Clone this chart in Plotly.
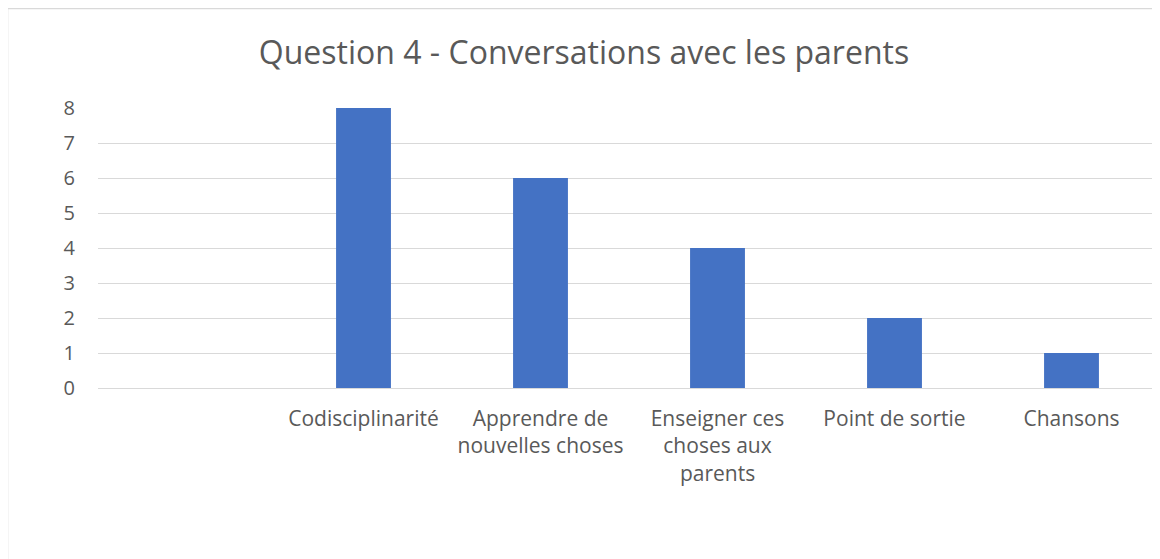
import plotly.graph_objects as go

# first category is left blank in the original sheet
categories = [
    " ",
    "Codisciplinarité",
    "Apprendre de<br>nouvelles choses",
    "Enseigner ces<br>choses aux<br>parents",
    "Point de sortie",
    "Chansons",
]
counts = [None, 8, 6, 4, 2, 1]
y_ticks = [0, 1, 2, 3, 4, 5, 6, 7, 8]

text_color = "#595959"
grid_color = "#D9D9D9"

fig = go.Figure(
    go.Bar(
        x=categories,
        y=counts,
        width=0.31,
        marker=dict(color="#4472C4", line=dict(width=0)),
    )
)

# the html page adds an 8px body margin, so the figure is offset by 8px
fig.update_layout(
    width=1152,
    height=551,
    margin=dict(l=90, r=0, t=100, b=171),
    paper_bgcolor="white",
    plot_bgcolor="white",
    font=dict(family="Open Sans, sans-serif", size=21, color=text_color),
    title=dict(
        text="Question 4 - Conversations avec les parents",
        x=0.5,
        xanchor="center",
        y=0.918,
        yanchor="middle",
        font=dict(size=32, color=text_color),
    ),
    showlegend=False,
)

fig.update_xaxes(
    type="category",
    range=[-0.5, 5.5],
    showgrid=False,
    showline=False,
    zeroline=False,
    ticks="",
    tickangle=0,
    ticklabelstandoff=16,
)
fig.update_yaxes(
    range=[0, 8],
    tickvals=y_ticks,
    tickfont=dict(size=20),
    showgrid=True,
    gridcolor=grid_color,
    gridwidth=1,
    zeroline=True,
    zerolinecolor=grid_color,
    zerolinewidth=1,
    showline=False,
    ticks="",
    ticklabelstandoff=22,
)

# outer chart border (cut off on the right and bottom in the reference)
fig.add_shape(
    type="rect",
    xref="paper",
    yref="paper",
    x0=-0.0852,
    x1=1.2,
    y0=-1.5,
    y1=1.3554,
    line=dict(color=grid_color, width=1.5),
    fillcolor="rgba(0,0,0,0)",
    layer="below",
)

fig.write_html("out.html")
